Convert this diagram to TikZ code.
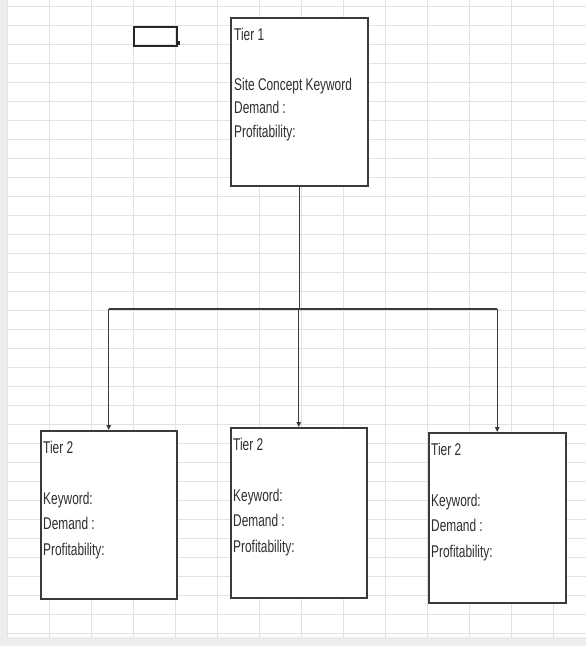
\documentclass[tikz,border=0pt]{standalone}
\usepackage{fontspec}
\newfontfamily\boxfont{Liberation Sans}[FakeStretch=0.7]
\usetikzlibrary{arrows.meta}
\definecolor{gridc}{HTML}{E3E3DA}
\definecolor{ink}{HTML}{3A3A3A}
\definecolor{txt}{HTML}{2E2E2E}
\definecolor{margin}{HTML}{EDEDED}
\tikzset{
  tierbox/.style={draw=ink, line width=1.5pt, fill=white, anchor=north west,
    inner sep=0pt, minimum width=#1},
  tiertext/.style={anchor=north west, inner sep=0pt, align=left, text=txt,
    font=\boxfont\fontsize{17}{#1}\selectfont},
  conn/.style={draw=ink, line width=1.2pt},
  arr/.style={conn, -{Triangle[length=5pt,width=4.5pt]}},
}
\begin{document}
\begin{tikzpicture}[x=1pt,y=-1pt]
  % sheet background with its grey margin
  \fill[margin] (0,0) rectangle (586,646);
  \fill[white] (7,0) rectangle (586,637);
  \useasboundingbox (0,0) rectangle (586,646);
  % spreadsheet cell grid
  \foreach \gy in {6,25,...,633} \draw[gridc, line width=0.7pt] (7,\gy) -- (586,\gy);
  \foreach \gx in {7,49,...,553} \draw[gridc, line width=0.7pt] (\gx,0) -- (\gx,637);

  % active cell marker
  \node[draw=black!85, line width=2pt, minimum width=43pt, minimum height=19pt,
        inner sep=0pt, anchor=north west] (sel) at (133,26) {};
  \fill[black!85] ([xshift=-2pt,yshift=2pt]sel.south east) rectangle ++(4,-4);

  % tier 1
  \node[tierbox=137pt, minimum height=168pt] (t1) at (230,17) {};
  \node[tiertext=23.5pt] (t1txt) at ([xshift=4pt,yshift=-10.8pt]t1.north west)
    {Tier 1\\[26.5pt]Site Concept Keyword\\Demand :\\Profitability:};

  % tier 2 boxes
  \node[tierbox=136pt, minimum height=168pt] (a) at (40,430) {};
  \node[tierbox=136pt, minimum height=170pt] (b) at (230,427) {};
  \node[tierbox=137pt, minimum height=170pt] (c) at (428,432) {};
  \node[tiertext=25.5pt] (atxt) at ([xshift=3pt,yshift=-10.8pt]a.north west)
    {Tier 2\\[25.5pt]Keyword:\\Demand :\\Profitability:};
  \node[tiertext=25.5pt] (btxt) at ([xshift=3pt,yshift=-10.8pt]b.north west)
    {Tier 2\\[25.5pt]Keyword:\\Demand :\\Profitability:};
  \node[tiertext=25.5pt] (ctxt) at ([xshift=3pt,yshift=-10.8pt]c.north west)
    {Tier 2\\[25.5pt]Keyword:\\Demand :\\Profitability:};

  % connectors
  \coordinate (bus) at (300,309);
  \draw[conn] (t1.south) -- (t1.south |- bus);
  \draw[conn] (a.north |- bus) -- (c.north |- bus);
  \draw[arr] (a.north |- bus) -- (a.north);
  \draw[arr] (b.north |- bus) -- (b.north);
  \draw[arr] (c.north |- bus) -- (c.north);
\end{tikzpicture}
\end{document}
